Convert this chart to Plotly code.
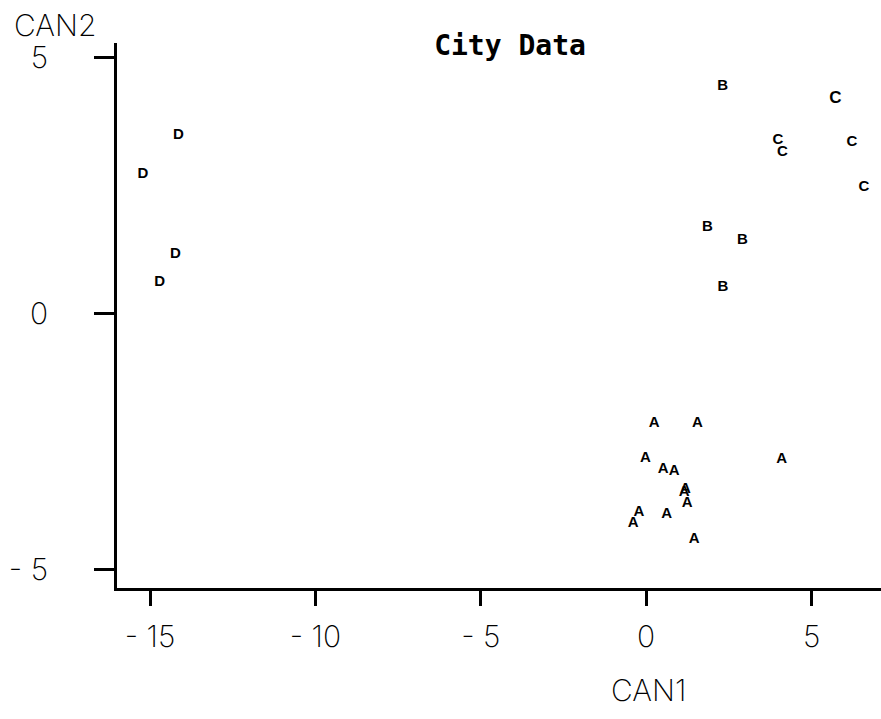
import plotly.graph_objects as go

# Data
a_x = [0.24, 1.55, -0.02, 0.51, 0.85, 1.19, 1.15, 1.24, -0.22, -0.39, 0.62, 1.45, 4.10]
a_y = [-2.14, -2.14, -2.83, -3.04, -3.09, -3.43, -3.50, -3.70, -3.89, -4.10, -3.92, -4.41, -2.85]
b_x = [2.31, 1.85, 2.91, 2.32]
b_y = [4.43, 1.68, 1.42, 0.51]
c_x = [5.72, 3.98, 4.12, 6.22, 6.58]
c_y = [4.19, 3.38, 3.14, 3.34, 2.46]
c_size = [17, 15, 15, 15, 15]
d_x = [-14.14, -15.22, -14.23, -14.71]
d_y = [3.47, 2.72, 1.16, 0.60]

groups = [
    ("A", a_x, a_y, 15),
    ("B", b_x, b_y, 15),
    ("C", c_x, c_y, c_size),
    ("D", d_x, d_y, 15),
]

x_ticks = [-15, -10, -5, 0, 5]
y_ticks = [-5, 0, 5]
x_range = [-16.0, 7.1]
y_range = [-5.36, 5.28]

tick_font = dict(family="Inter", size=30, color="black", weight=200)

fig = go.Figure()
for name, xs, ys, s in groups:
    fig.add_trace(go.Scatter(
        x=xs, y=ys, mode="text", text=[name] * len(xs), name=name,
        textposition="middle center",
        textfont=dict(family="Liberation Sans", size=s, color="black", weight="bold"),
        showlegend=False, hoverinfo="x+y",
    ))

fig.update_layout(
    width=881, height=719,
    margin=dict(l=117, r=0, t=43, b=131),
    paper_bgcolor="white", plot_bgcolor="white",
    title=dict(text="City Data", x=510 / 881, xanchor="center", y=1 - 45 / 719, yanchor="middle",
               font=dict(family="DejaVu Sans Mono", size=28, color="black", weight="bold")),
    xaxis=dict(range=x_range, tickvals=x_ticks, ticktext=[str(v).replace("-", "- ") for v in x_ticks],
               showgrid=False, zeroline=False, showline=True, linewidth=3, linecolor="black",
               ticks="outside", ticklen=15, tickwidth=3, tickcolor="black",
               tickfont=tick_font, ticklabelstandoff=5),
    yaxis=dict(range=y_range, tickvals=y_ticks, ticktext=[str(v).replace("-", "- ") for v in y_ticks],
               showgrid=False, zeroline=False, showline=True, linewidth=3, linecolor="black",
               ticks="outside", ticklen=20, tickwidth=3, tickcolor="black",
               tickfont=tick_font, ticklabelstandoff=40),
    annotations=[
        dict(text="CAN2", xref="paper", yref="paper", x=-105 / 764, y=1 + 18 / 545,
             xanchor="left", yanchor="middle", showarrow=False, font=tick_font),
        dict(text="CAN1", xref="paper", yref="paper", x=(648 - 117) / 764, y=-(690 - 588) / 545,
             xanchor="center", yanchor="middle", showarrow=False, font=tick_font),
    ],
)

fig.write_html("out.html")
